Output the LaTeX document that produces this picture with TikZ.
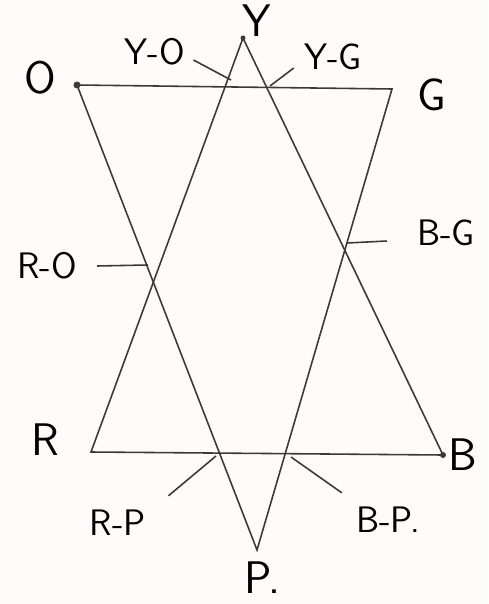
\documentclass[tikz,border=0pt]{standalone}
\usepackage{tikz}
\usetikzlibrary{positioning,calc}
\definecolor{pline}{HTML}{3A3A3A}
\definecolor{pink}{HTML}{FFFBFB}
\tikzset{
  vtx/.style={font=\fontsize{26}{28}\selectfont\sffamily,inner sep=0pt},
  lbl/.style={font=\fontsize{21}{24}\selectfont\sffamily,inner sep=0pt},
  edge/.style={draw=pline,line width=0.9pt},
  lead/.style={draw=pline,line width=0.9pt}
}
\begin{document}
\begin{tikzpicture}[x=0.02cm,y=-0.02cm]
      \fill[pink] (0,0) rectangle (488,604);
      \useasboundingbox (0,0) rectangle (488,604);
      % corners
      \coordinate (y) at (243,38);
      \coordinate (o) at (77,85);
      \coordinate (g) at (392,89);
      \coordinate (r) at (91,452);
      \coordinate (b) at (443,455);
      \coordinate (p) at (257,550);
      \draw[edge] (y) -- (r) -- (b) -- cycle;
      \draw[edge] (o) -- (g) -- (p) -- cycle;
      \fill[pline] (o) circle (3.5) (b) circle (3) (y) circle (2.5);
      \node[vtx] (ny) at (257,21) {Y};
      \node[vtx] (no) at (40,78) {O};
      \node[vtx] (ng) at (432,95) {G};
      \node[vtx] (nr) at (45,440) {R};
      \node[vtx] (nb) at (463,455) {B};
      \node[vtx] (np) at (262,578) {P.};
      % crossing points
      \coordinate (xyo) at (231,80);
      \coordinate (xyg) at (270,86);
      \coordinate (xro) at (148,265);
      \coordinate (xbg) at (347,243);
      \coordinate (xrp) at (216,456);
      \coordinate (xbp) at (291,457);
      \node[lbl] (lyo) at (155,52) {Y-O};
      \node[lbl] (lyg) at (333,57) {Y-G};
      \node[lbl] (lro) at (47,266) {R-O};
      \node[lbl] (lbg) at (446,233) {B-G};
      \node[lbl] (lrp) at (118,523) {R-P};
      \node[lbl] (lbp) at (388,520) {B-P.};
      \draw[lead] ($(lyo.east)+(8,8)$) -- (xyo);
      \draw[lead] ($(lyg.west)+(-10,11)$) -- (xyg);
      \draw[lead] ($(lro.east)+(20,0)$) -- (xro);
      \draw[lead] ($(lbg.west)+(-30,8)$) -- (xbg);
      \draw[lead] ($(lrp.north east)+(22,-14)$) -- (xrp);
      \draw[lead] ($(lbp.north west)+(-14,-14)$) -- (xbp);
    \end{tikzpicture}
\end{document}
